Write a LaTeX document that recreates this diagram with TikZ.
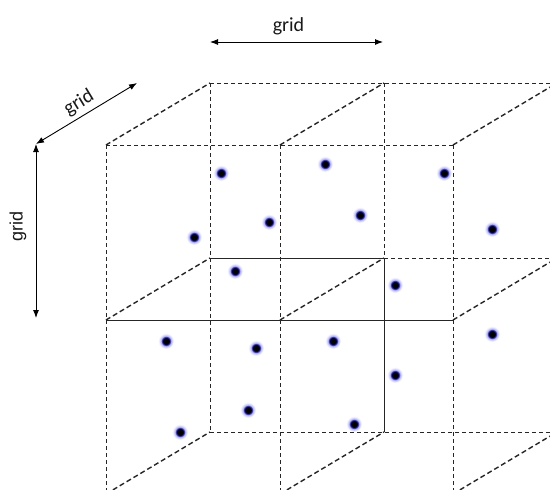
\documentclass[tikz,border=0pt]{standalone}
\usepackage{fontspec}
\setmainfont{Carlito}
\newfontfamily\arialfont{Liberation Sans}
\usetikzlibrary{arrows.meta}
\pgfdeclareradialshading{dotglow}{\pgfpoint{0bp}{0bp}}{color(0bp)=(black); color(7bp)=(black); color(11bp)=(blue!40!black); color(16bp)=(blue!30!white); color(21bp)=(blue!8!white); color(25bp)=(white); color(50bp)=(white)}
\tikzset{
  wire/.style={line width=0.9pt, draw=black!85, dash pattern=on 4pt off 3pt},
  solidwire/.style={line width=0.9pt, draw=black!85},
  depth/.style={line width=1.4pt, draw=black!85, dash pattern=on 5pt off 3pt},
  dimarrow/.style={line width=0.9pt, draw=black, {Latex[length=8pt,width=6pt]}-{Latex[length=8pt,width=6pt]}},
  particle/.style={circle, minimum size=16pt, inner sep=0pt, shading=dotglow},
  lbl/.style={font=\fontsize{20}{24}\selectfont, text=black!90, inner sep=0pt}
}
\begin{document}
\begin{tikzpicture}[x=1pt,y=-1pt]
\useasboundingbox (0,0) rectangle (550,490);
\fill[white] (0,0) rectangle (550,490);
\begin{scope}
\clip (0,0) rectangle (550,490);
% front grid corners
\coordinate (f00) at (106,145); \coordinate (f10) at (280,145); \coordinate (f20) at (453,145);
\coordinate (f01) at (106,320); \coordinate (f11) at (280,320); \coordinate (f21) at (453,320);
\coordinate (f02) at (106,494); \coordinate (f12) at (280,494); \coordinate (f22) at (453,494);
% back grid corners
\coordinate (b00) at (210,83);  \coordinate (b10) at (384,83);  \coordinate (b20) at (557,83);
\coordinate (b01) at (210,258); \coordinate (b11) at (384,258); \coordinate (b21) at (557,258);
\coordinate (b02) at (210,432); \coordinate (b12) at (384,432); \coordinate (b22) at (557,432);
% back grid
\draw[wire] (b00) -- (b20);
\draw[solidwire] (b01) -- (b11);
\draw[wire] (b11) -- (b21);
\draw[wire] (b02) -- (b22);
\draw[wire] (b00) -- (b02);
\draw[wire] (b10) -- (b11);
\draw[solidwire] (b11) -- (b12);
\draw[wire] (b20) -- (b22);
% depth edges
\foreach \i in {0,1,2}{\foreach \j in {0,1,2}{\draw[depth] (f\i\j) -- (b\i\j);}}
% front grid
\draw[wire] (f00) -- (f20);
\draw[solidwire] (f01) -- (f21);
\draw[wire] (f02) -- (f22);
\draw[wire] (f00) -- (f02);
\draw[wire] (f10) -- (f12);
\draw[wire] (f20) -- (f22);
\end{scope}
% particles
\node[particle] (d1) at (221,173) {};
\node[particle] (d2) at (194,237) {};
\node[particle] (d3) at (269,222) {};
\node[particle] (d4) at (235,271) {};
\node[particle] (d5) at (325,164) {};
\node[particle] (d6) at (360,215) {};
\node[particle] (d7) at (444,173) {};
\node[particle] (d8) at (492,229) {};
\node[particle] (d9) at (395,285) {};
\node[particle] (d10) at (166,341) {};
\node[particle] (d11) at (256,348) {};
\node[particle] (d12) at (333,341) {};
\node[particle] (d13) at (492,334) {};
\node[particle] (d14) at (395,375) {};
\node[particle] (d15) at (248,410) {};
\node[particle] (d16) at (180,432) {};
\node[particle] (d17) at (354,424) {};
% dimension arrows
\coordinate (ah1) at (210,42); \coordinate (ah2) at (383,42);
\coordinate (corner) at (36,144); \coordinate (ad2) at (137,83);
\coordinate (av2) at (36,318);
\draw[dimarrow] (ah1) -- (ah2);
\draw[dimarrow] (corner) -- (ad2);
\draw[dimarrow] (corner) -- (av2);
\node[lbl, anchor=base] (lh) at (288.5,31) {grid};
\node[lbl, rotate=31.5] (ld) at (79,103) {grid};
\node[lbl, font=\arialfont\fontsize{18}{22}\selectfont, rotate=90] (lv) at (18,226) {grid};
\end{tikzpicture}
\end{document}
